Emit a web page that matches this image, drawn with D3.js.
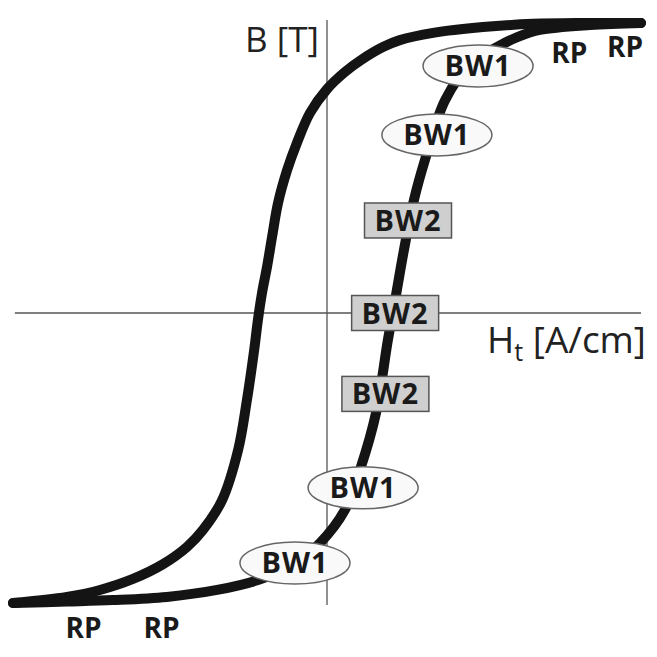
<!DOCTYPE html>
<html>
<head>
<meta charset="utf-8">
<script src="https://cdn.jsdelivr.net/npm/d3@7"></script>
<style>
  html, body { margin: 0; padding: 0; background: #fff; }
  svg { display: block; }
</style>
</head>
<body>
<script>
// ---- data (H in A/cm, B in T; arbitrary units) ----
const descH = [10, 8.15, 6.56, 4.97, 3.38, 2.32, 1.78, 1.08, 0.57, 0, -0.54, -0.96, -1.27, -1.56, -1.75, -1.91, -2.07, -2.20, -2.32, -2.55, -2.83, -3.34, -3.95, -4.46, -5.22, -6.18, -7.23, -8.28, -10];
const descB = [1.0, 1.0, 0.997, 0.986, 0.966, 0.941, 0.917, 0.872, 0.831, 0.772, 0.690, 0.586, 0.493, 0.379, 0.262, 0.159, 0.069, -0.024, -0.128, -0.300, -0.472, -0.645, -0.748, -0.807, -0.866, -0.917, -0.955, -0.979, -1.0];

const ascH = [-10, -8.28, -6.82, -5.10, -3.50, -2.20, -1.08, -0.22, 0.57, 1.08, 1.56, 1.94, 2.17, 2.45, 2.77, 3.12, 3.76, 4.59, 5.41, 6.08, 6.78, 8.38, 10];
const ascB = [-1.0, -0.995, -0.990, -0.979, -0.955, -0.921, -0.869, -0.793, -0.679, -0.531, -0.345, -0.093, 0.045, 0.217, 0.390, 0.528, 0.734, 0.862, 0.917, 0.952, 0.976, 0.993, 1.0];

const bw1Text = ["BW1", "BW1", "BW1", "BW1"];
const bw1H = [4.81, 3.50, 1.15, -1.02];
const bw1B = [0.852, 0.614, -0.603, -0.862];

const bw2Text = ["BW2", "BW2", "BW2"];
const bw2H = [2.58, 2.17, 1.86];
const bw2B = [0.319, 0.0, -0.279];

const rpText = ["RP", "RP", "RP", "RP"];
const rpH = [7.72, 9.49, -7.75, -5.27];
const rpB = [0.862, 0.883, -1.121, -1.121];

const hDomain = [-10, 10];
const bDomain = [-1, 1];
const axisHExtent = [-9.94, 10];
const axisBExtent = [1.01, -1.007];

// ---- layout ----
const W = 657, H = 657;
const x = d3.scaleLinear().domain(hDomain).range([13, 641]);
const y = d3.scaleLinear().domain(bDomain).range([603, 23]);

const svg = d3.select("body").append("svg").attr("width", W).attr("height", H);

// axes
svg.append("line")
  .attr("x1", x(axisHExtent[0])).attr("x2", x(axisHExtent[1]))
  .attr("y1", y(0)).attr("y2", y(0))
  .attr("stroke", "#555").attr("stroke-width", 1.3);
svg.append("line")
  .attr("x1", x(0)).attr("x2", x(0))
  .attr("y1", y(axisBExtent[0])).attr("y2", y(axisBExtent[1]))
  .attr("stroke", "#555").attr("stroke-width", 1.3);

// axis labels
svg.append("text")
  .attr("x", x(0) - 8).attr("y", 52)
  .attr("text-anchor", "end")
  .attr("font-family", "'Open Sans', sans-serif")
  .attr("font-size", 35).attr("fill", "#222")
  .text("B [T]");

const ht = svg.append("text")
  .attr("x", 487).attr("y", 353)
  .attr("font-family", "'Open Sans', sans-serif")
  .attr("font-size", 37).attr("fill", "#222");
ht.append("tspan").text("H");
ht.append("tspan").attr("font-size", 25).attr("dy", 8).text("t");
ht.append("tspan").attr("dy", -8).text(" [A/cm]");

// curves
const line = d3.line()
  .x(d => x(d[0])).y(d => y(d[1]))
  .curve(d3.curveCatmullRom.alpha(0.5));

const desc = descH.map((h, i) => [h, descB[i]]);
const asc = ascH.map((h, i) => [h, ascB[i]]);

svg.append("path").attr("d", line(desc))
  .attr("fill", "none").attr("stroke", "#141414")
  .attr("stroke-width", 10).attr("stroke-linecap", "round");
svg.append("path").attr("d", line(asc))
  .attr("fill", "none").attr("stroke", "#141414")
  .attr("stroke-width", 10).attr("stroke-linecap", "round");

const labelFont = "'Open Sans', sans-serif";

// BW1 ellipses
const g1 = svg.append("g").selectAll("g")
  .data(bw1Text.map((t, i) => ({t, h: bw1H[i], b: bw1B[i]})))
  .join("g")
  .attr("transform", d => `translate(${x(d.h)},${y(d.b)})`);
g1.append("ellipse").attr("rx", 55).attr("ry", 21)
  .attr("fill", "#f9f9f9").attr("stroke", "#666").attr("stroke-width", 1.5);
g1.append("text").attr("text-anchor", "middle").attr("dy", 10.5)
  .attr("font-family", labelFont).attr("font-weight", 700)
  .attr("font-size", 29).attr("fill", "#1a1a1a")
  .attr("letter-spacing", 1)
  .text(d => d.t);

// BW2 boxes
const g2 = svg.append("g").selectAll("g")
  .data(bw2Text.map((t, i) => ({t, h: bw2H[i], b: bw2B[i]})))
  .join("g")
  .attr("transform", d => `translate(${x(d.h)},${y(d.b)})`);
g2.append("rect").attr("x", -43.5).attr("y", -17.5).attr("width", 87).attr("height", 35)
  .attr("fill", "#cfcfcf").attr("stroke", "#555").attr("stroke-width", 1.5);
g2.append("text").attr("text-anchor", "middle").attr("dy", 10.5)
  .attr("font-family", labelFont).attr("font-weight", 700)
  .attr("font-size", 29).attr("fill", "#1a1a1a")
  .attr("letter-spacing", 1)
  .text(d => d.t);

// RP labels
svg.append("g").selectAll("text")
  .data(rpText.map((t, i) => ({t, h: rpH[i], b: rpB[i]})))
  .join("text")
  .attr("x", d => x(d.h)).attr("y", d => y(d.b))
  .attr("text-anchor", "middle")
  .attr("font-family", labelFont).attr("font-weight", 700)
  .attr("font-size", 28).attr("fill", "#1a1a1a")
  .text(d => d.t);
</script>
</body>
</html>
